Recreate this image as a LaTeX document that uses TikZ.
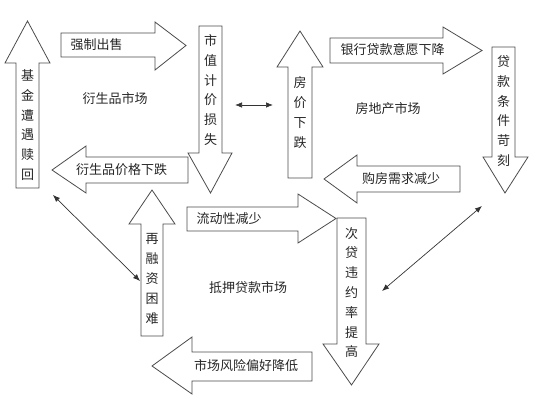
\documentclass[tikz,border=0pt]{standalone}
\usepackage{fontspec}
\newfontfamily\cjk{Noto Sans CJK SC}
\usetikzlibrary{arrows.meta}
\tikzset{
    blk/.style =    {draw=black!70,
                    fill=white,
                    line width=0.8pt,
                    line join=miter},
    lbl/.style =    {inner sep=0pt,
                    text=black!85,
                    font=\cjk\fontsize{13}{19.8}\selectfont},
    vlbl/.style =   {lbl,
                    align=center},
    market/.style = {lbl},
    link/.style =   {<->,
                    draw=black!80,
                    line width=0.7pt},
    >={Latex[length=7pt,width=5.5pt]}}

\begin{document}
\begin{tikzpicture}[x=1pt,y=-1pt]
                \useasboundingbox (0,0) rectangle (536,401);
                % derivative market
                \draw[blk] (16,188) -- (16,63) -- (5,63) -- (27.5,21) -- (50,63) -- (39,63) -- (39,188) -- cycle;
                \draw[blk] (61,33) -- (155,33) -- (155,22) -- (186,45.5) -- (155,70) -- (155,57) -- (61,57) -- cycle;
                \draw[blk] (199,26) -- (222,26) -- (222,153) -- (232,153) -- (210.5,193) -- (188,153) -- (199,153) -- cycle;
                \draw[blk] (188,157) -- (86,157) -- (86,146) -- (52,170) -- (86,193) -- (86,183) -- (188,183) -- cycle;
                \node[vlbl]     (fund)   at (27.5,125)  {基\\金\\遭\\遇\\赎\\回};
                \node[lbl]      (sale)   at (96.5,45)   {强制出售};
                \node[vlbl]     (loss)   at (210.5,90)  {市\\值\\计\\价\\损\\失};
                \node[lbl]      (deriv)  at (121.5,170) {衍生品价格下跌};
                \node[market]   (mDeriv) at (115,99)    {衍生品市场};
                % housing market
                \draw[blk] (288,178) -- (288,67) -- (277,67) -- (300,31) -- (323,67) -- (312,67) -- (312,178) -- cycle;
                \draw[blk] (330,38) -- (443,38) -- (443,27) -- (482,50.5) -- (443,74) -- (443,63) -- (330,63) -- cycle;
                \draw[blk] (492,47) -- (515,47) -- (515,157) -- (528,157) -- (505,193) -- (483,157) -- (492,157) -- cycle;
                \draw[blk] (460,166) -- (357,166) -- (357,155) -- (324,179) -- (357,203) -- (357,192) -- (460,192) -- cycle;
                \node[vlbl]     (house)  at (300,112.5) {房\\价\\下\\跌};
                \node[lbl]      (bank)   at (392.5,50)  {银行贷款意愿下降};
                \node[vlbl]     (terms)  at (503.5,111) {贷\\款\\条\\件\\苛\\刻};
                \node[lbl]      (demand) at (401,179)   {购房需求减少};
                \node[market]   (mHouse) at (388,109)   {房地产市场};
                % mortgage market
                \draw[blk] (141,336) -- (141,224) -- (129,224) -- (152,190) -- (175,224) -- (163,224) -- (163,336) -- cycle;
                \draw[blk] (187,207) -- (298,207) -- (298,194) -- (336,218.5) -- (298,243) -- (298,231) -- (187,231) -- cycle;
                \draw[blk] (337,218) -- (366,218) -- (366,344) -- (379,344) -- (351.5,385) -- (323,344) -- (337,344) -- cycle;
                \draw[blk] (312,352) -- (192,352) -- (192,337) -- (152,366) -- (192,394) -- (192,381) -- (312,381) -- cycle;
                \node[vlbl]     (refi)    at (152,279)   {再\\融\\资\\困\\难};
                \node[lbl]      (liquid)  at (229,219)   {流动性减少};
                \node[vlbl]     (default) at (351.5,292.5) {次\\贷\\违\\约\\率\\提\\高};
                \node[lbl]      (risk)    at (246,366)   {市场风险偏好降低};
                \node[market]   (mLoan)   at (248,288)   {抵押贷款市场};
                % links between markets
                \coordinate (l1a) at (235,105);
                \coordinate (l1b) at (273,105);
                \coordinate (l2a) at (53,195);
                \coordinate (l2b) at (140,281);
                \coordinate (l3a) at (382,291);
                \coordinate (l3b) at (482,206);
                \draw[link] (l1a) -- (l1b);
                \draw[link] (l2a) -- (l2b);
                \draw[link] (l3a) -- (l3b);
        \end{tikzpicture}
\end{document}
